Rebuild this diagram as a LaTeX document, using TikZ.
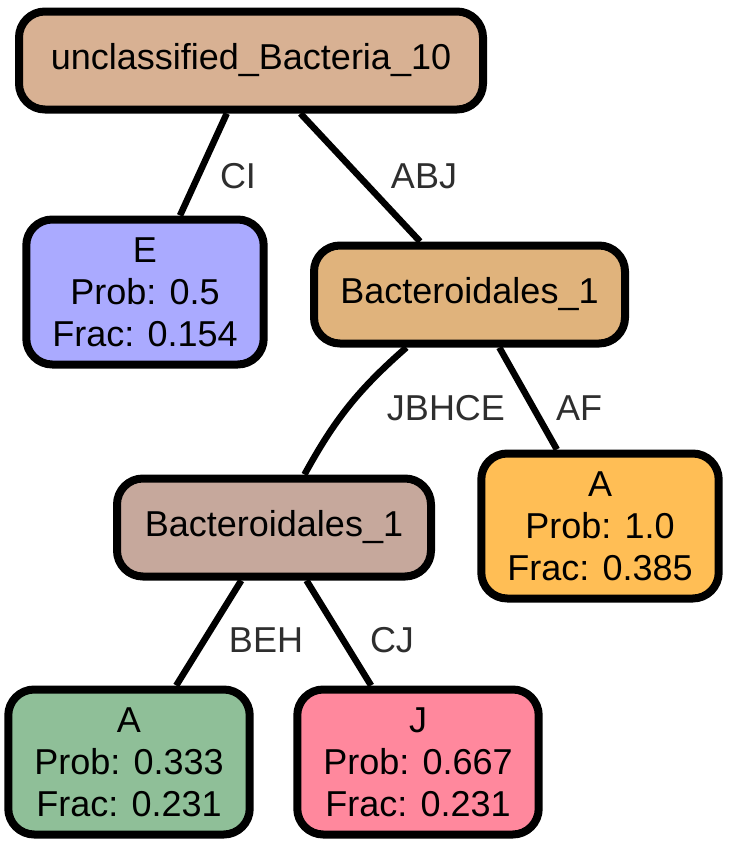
\documentclass[tikz,border=0pt]{standalone}
\usepackage{fontspec}
\setmainfont{Liberation Sans}
\definecolor{cRoot}{HTML}{D8B193}
\definecolor{cLeafE}{HTML}{AAAAFF}
\definecolor{cBactA}{HTML}{E0B37C}
\definecolor{cBactB}{HTML}{C6A89C}
\definecolor{cLeafAr}{HTML}{FFBE55}
\definecolor{cLeafAb}{HTML}{8FBF98}
\definecolor{cLeafJ}{HTML}{FF889D}
\definecolor{labelgray}{HTML}{2E2E2E}

\tikzset{every picture/.style={line width=0.75pt}}
\tikzset{
	taxon/.style={draw=black, line width=8pt, rounded corners=26pt, inner xsep=26pt, minimum height=98pt, font=\fontsize{36}{42}\selectfont},
	leaf/.style={taxon, align=center, minimum width=236pt, minimum height=145pt},
	elabel/.style={text=labelgray, inner sep=0pt, font=\fontsize{36}{42}\selectfont},
	branch/.style={line width=6.5pt},
}

\begin{document}
\begin{tikzpicture}[x=1pt,y=1pt,yscale=-1,xscale=1]
	\useasboundingbox (0,0) rectangle (729,846);
	
	% Taxon Node
	\draw (251,60.5) node [taxon, fill=cRoot, minimum width=464pt] (root) {unclassified\_Bacteria\_10};
	% Taxon Node
	\draw (469.5,294.5) node [taxon, fill=cBactA, minimum width=311pt] (bactA) {Bacteroidales\_1};
	% Taxon Node
	\draw (274,527.5) node [taxon, fill=cBactB, minimum width=314pt] (bactB) {Bacteroidales\_1};
	% Leaf Node
	\draw (145,292) node [leaf, fill=cLeafE] (leafE) {E\\Prob: 0.5\\Frac: 0.154};
	% Leaf Node
	\draw (600,526) node [leaf, fill=cLeafAr, minimum width=232pt] (leafAr) {A\\Prob: 1.0\\Frac: 0.385};
	% Leaf Node
	\draw (129,762) node [leaf, fill=cLeafAb] (leafAb) {A\\Prob: 0.333\\Frac: 0.231};
	% Leaf Node
	\draw (418,762) node [leaf, fill=cLeafJ] (leafJ) {J\\Prob: 0.667\\Frac: 0.231};
	
	% Connection
	\draw [branch] (root) -- (leafE);
	% Connection
	\draw [branch] (root) -- (bactA);
	% Connection
	\draw [branch] (bactA) to [bend left=10] (bactB);
	% Connection
	\draw [branch] (bactA) -- (leafAr);
	% Connection
	\draw [branch] (bactB) -- (leafAb);
	% Connection
	\draw [branch] (bactB) -- (leafJ);
	
	% Text Node
	\draw (238,176) node [elabel] (lCI) {CI};
	% Text Node
	\draw (424,176) node [elabel] (lABJ) {ABJ};
	% Text Node
	\draw (446,408) node [elabel] (lJBHCE) {JBHCE};
	% Text Node
	\draw (579,408) node [elabel] (lAF) {AF};
	% Text Node
	\draw (266,640) node [elabel] (lBEH) {BEH};
	% Text Node
	\draw (392,640) node [elabel] (lCJ) {CJ};
	
\end{tikzpicture}
\end{document}
